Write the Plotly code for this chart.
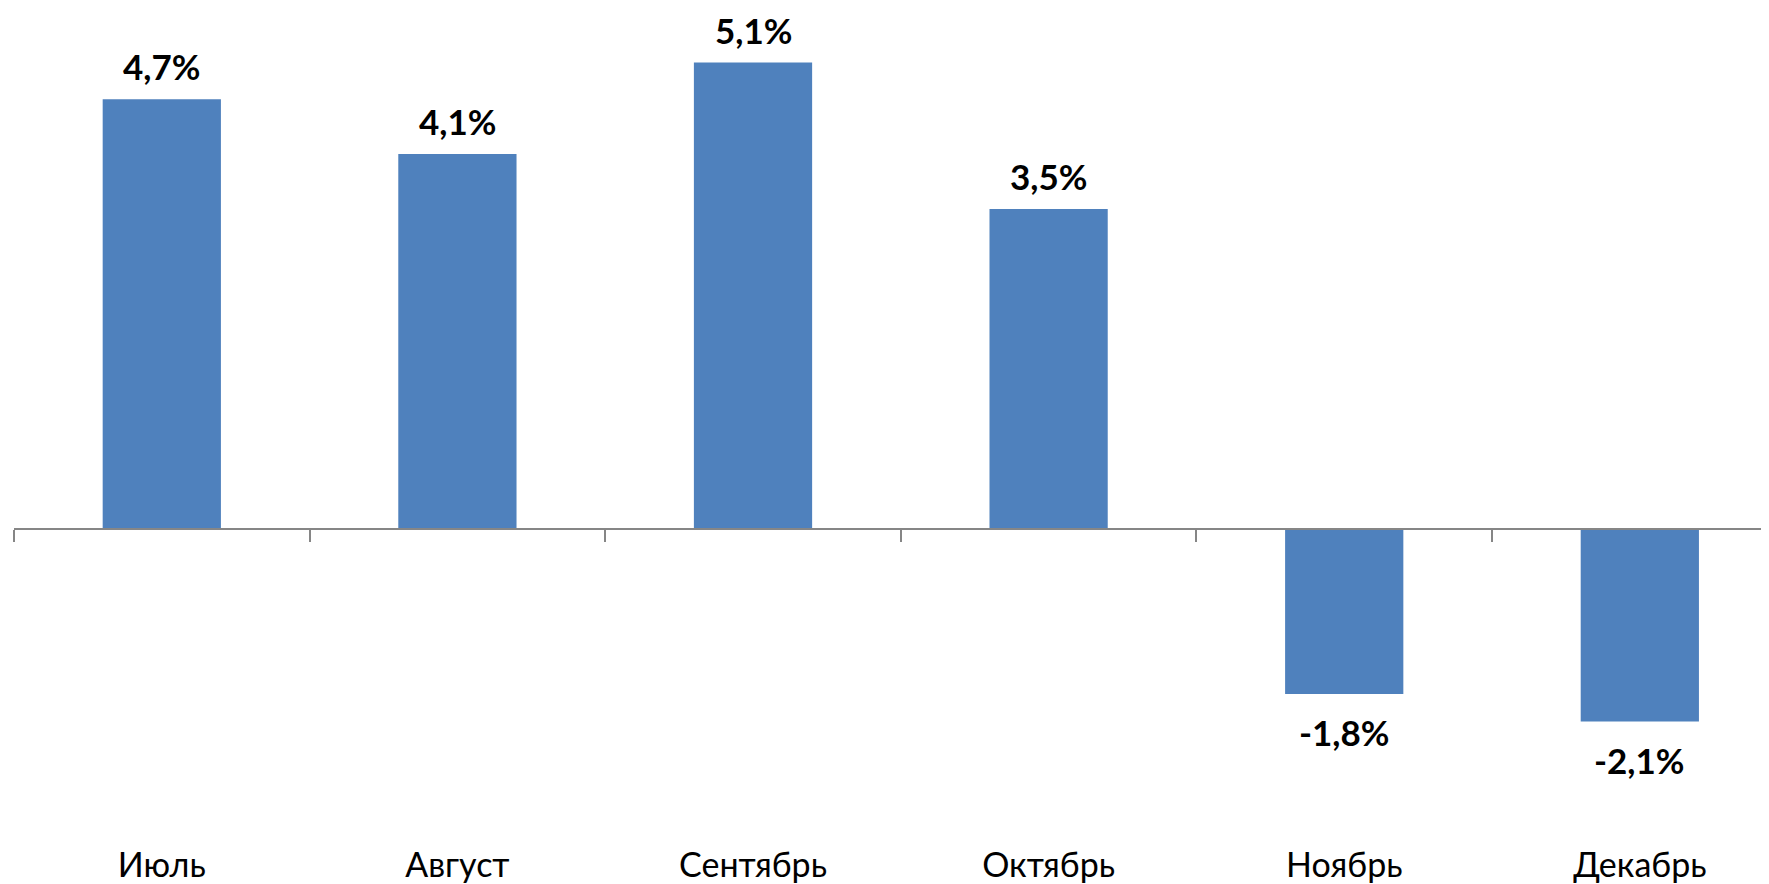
import plotly.graph_objects as go

months = ["Июль", "Август", "Сентябрь", "Октябрь", "Ноябрь", "Декабрь"]
values = [4.7, 4.1, 5.1, 3.5, -1.8, -2.1]
labels = ["4,7%", "4,1%", "5,1%", "3,5%", "-1,8%", "-2,1%"]

# page body has an 8px margin; size the figure to fit the 1769x884 window
W, H = 1761, 876
m_l, m_r, m_t, m_b = 6, 0, 0, 40
zero_px = 522.6
px_per_unit = 91.75
y_max = (zero_px - m_t) / px_per_unit
y_min = -(H - m_b - zero_px) / px_per_unit
x_rng = [-0.5, 5.437]

bar_color = "#4F81BD"
axis_color = "#868686"
font_fam = "Lato, 'Open Sans', sans-serif"

fig = go.Figure()
fig.add_trace(go.Bar(
    x=months, y=values, width=0.4,
    marker=dict(color=bar_color, line=dict(width=0)),
    hoverinfo="skip", showlegend=False,
))
# invisible trace to carry the zero-line axis with boundary ticks
fig.add_trace(go.Scatter(x=months, y=[0] * len(months), mode="none",
                         xaxis="x2", hoverinfo="skip", showlegend=False))

for m, v, t in zip(months, values, labels):
    fig.add_annotation(
        x=m, y=v, xref="x", yref="y", text=f"<b>{t}</b>", showarrow=False,
        yanchor="bottom" if v >= 0 else "top",
        yshift=10 if v >= 0 else -15,
        font=dict(family=font_fam, size=35, color="#000000"),
    )

fig.update_layout(
    width=W, height=H,
    margin=dict(l=m_l, r=m_r, t=m_t, b=m_b),
    paper_bgcolor="white", plot_bgcolor="white",
    bargap=0.6,
    xaxis=dict(type="category", categoryorder="array", categoryarray=months,
               range=x_rng, showline=False, ticks="", showgrid=False,
               zeroline=False,
               tickfont=dict(family=font_fam, size=34, color="#000000")),
    xaxis2=dict(type="category", categoryorder="array", categoryarray=months,
                range=x_rng, overlaying="x", anchor="free",
                position=(0 - y_min) / (y_max - y_min),
                showline=True, linecolor=axis_color, linewidth=2,
                ticks="outside", tickson="boundaries", ticklen=12,
                tickcolor=axis_color, tickwidth=2,
                showticklabels=False, showgrid=False, zeroline=False),
    yaxis=dict(range=[y_min, y_max], visible=False, showgrid=False,
               zeroline=False),
)

fig.write_html("out.html")
